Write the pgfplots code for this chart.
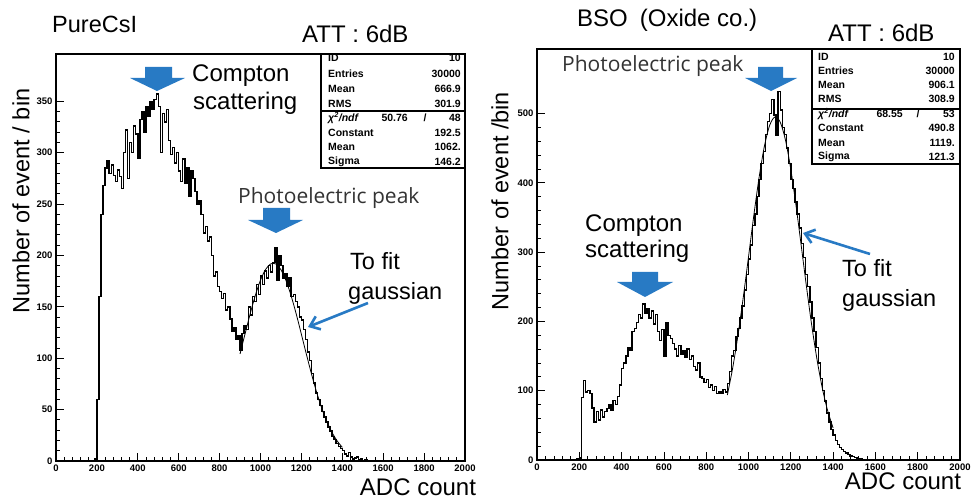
\documentclass[border=0pt]{standalone}
\usepackage{fontspec}
\setmainfont{Liberation Sans}
\newfontfamily\osans{Open Sans}
\usepackage{pgfplots}
\pgfplotsset{compat=1.18}
\usetikzlibrary{arrows.meta}
\definecolor{arrblue}{RGB}{40,122,196}
\newcommand{\fs}[1]{\fontsize{#1}{#1}\selectfont}

\pgfplotstableread{
x y
180 0
190 2
200 60
210 160
220 240
230 268
240 285
250 292
260 280
270 288
280 278
290 272
300 283
310 277
320 265
330 300
340 322
350 275
360 310
370 300
380 326
390 318
400 295
410 332
420 340
430 320
440 345
450 335
460 350
470 342
480 352
490 357
500 345
510 300
520 338
530 330
540 342
550 312
560 298
570 305
580 290
590 300
600 282
610 272
620 294
630 270
640 285
650 258
660 282
670 275
680 262
690 250
700 253
710 240
720 222
730 228
740 214
750 218
760 200
770 180
780 184
790 170
800 165
810 158
820 163
830 147
840 150
850 138
860 126
870 130
880 118
890 122
900 108
910 124
920 132
930 128
940 150
950 142
960 160
970 155
980 172
990 162
1000 180
1010 172
1020 185
1030 178
1040 190
1050 184
1060 193
1070 208
1080 176
1090 200
1100 190
1110 178
1120 182
1130 170
1140 178
1150 160
1160 162
1170 155
1180 150
1190 140
1200 137
1210 128
1220 118
1230 106
1240 98
1250 85
1260 76
1270 66
1280 60
1290 54
1300 48
1310 43
1320 38
1330 33
1340 29
1350 24
1360 21
1370 17
1380 14
1390 12
1400 10
1410 7
1420 5
1430 8
1440 4
1450 2
1460 3
1470 4
1480 1
1490 2
1500 0
1510 1
1520 0
}\csidata

\pgfplotstableread{
x y
900 104.2
925 124.1
950 143.6
975 161.3
1000 176.0
1025 186.4
1050 191.8
1075 191.7
1100 186.1
1125 175.4
1150 160.6
1175 142.8
1200 123.3
1225 103.4
1250 84.2
1275 66.6
1300 51.1
1325 38.2
1350 27.7
1375 19.5
1400 13.3
}\csifit

\pgfplotstableread{
x y
180 1
190 2
200 3
210 90
220 115
230 98
240 100
250 96
260 75
270 55
280 70
290 58
300 72
310 62
320 70
330 74
340 80
350 72
360 86
370 80
380 92
390 108
400 132
410 140
420 150
430 162
440 158
450 185
460 190
470 198
480 210
490 205
500 225
510 212
520 218
530 205
540 215
550 196
560 210
570 185
580 172
590 188
600 150
610 198
620 180
630 175
640 168
650 160
660 150
670 165
680 152
690 158
700 148
710 160
720 145
730 150
740 135
750 130
760 140
770 120
780 118
790 112
800 116
810 105
820 108
830 100
840 106
850 96
860 98
870 96
880 102
890 98
900 110
910 128
920 150
930 158
940 178
950 190
960 205
970 222
980 245
990 268
1000 290
1010 310
1020 338
1030 355
1040 380
1050 405
1060 428
1070 445
1080 470
1090 488
1100 500
1110 520
1120 498
1130 468
1140 532
1150 505
1160 480
1170 470
1180 450
1190 428
1200 405
1210 392
1220 372
1230 355
1240 335
1250 312
1260 292
1270 268
1280 250
1290 228
1300 205
1310 185
1320 162
1330 140
1340 118
1350 100
1360 85
1370 68
1380 55
1390 44
1400 36
1410 28
1420 22
1430 18
1440 15
1450 12
1460 10
1470 8
1480 6
1490 5
1500 4
1510 3
1520 2
1530 2
1540 1
1550 0
}\bsodata

\pgfplotstableread{
x y
900 93.8
925 132.4
950 179.6
975 234.1
1000 293.0
1025 352.6
1050 407.5
1075 452.5
1100 482.8
1125 495.0
1150 487.4
1175 461.3
1200 419.3
1225 366.3
1250 307.5
1275 248.0
1300 192.1
1325 143.0
1350 102.3
1375 70.3
1400 46.4
}\bsofit

\pgfplotsset{rootaxis/.style={
  scale only axis, anchor=south west,
  xmin=0, xmax=2000, ymin=0,
  axis line style={line width=1.1pt},
  xtick={0,200,...,2000}, minor x tick num=4,
  tick align=inside, xtick pos=bottom, ytick pos=left,
  major tick length=8pt, minor tick length=4pt,
  every tick/.style={line width=0.8pt, black},
  tick label style={font=\fs{9.5}\bfseries},
  /pgf/number format/assume math mode=true,
  /pgf/number format/1000 sep={},
}}

\begin{document}
\begin{tikzpicture}
\path[use as bounding box] (0pt,0pt) rectangle (975pt,501pt);

% ---------- left panel ----------
\begin{axis}[rootaxis, at={(56pt,40pt)}, width=409pt, height=407pt,
  ymax=396, ytick={0,50,...,350}, minor y tick num=4]
\addplot[const plot, line width=1.4pt, black] table {\csidata};
\addplot[line width=0.8pt, black, smooth] table {\csifit};
\end{axis}

% ---------- right panel ----------
\begin{axis}[rootaxis, at={(537pt,41pt)}, width=423pt, height=411pt,
  ymax=593, ytick={0,100,...,500}, minor y tick num=4]
\addplot[const plot, line width=1.4pt, black] table {\bsodata};
\addplot[line width=0.8pt, black, smooth] table {\bsofit};
\end{axis}

% ---------- stat boxes ----------
\begin{scope}[line width=1.1pt]
\filldraw[fill=white] (321pt,447pt) rectangle (465pt,333pt);
\draw (321pt,390pt) -- (465pt,390pt);
\filldraw[fill=white] (812pt,452pt) rectangle (960pt,337pt);
\draw (812pt,392pt) -- (960pt,392pt);
\end{scope}
\begin{scope}[every node/.style={font=\fs{10.5}\bfseries, inner sep=0pt}]
% left
\node[anchor=west] at (328pt,443pt) {ID};        \node[anchor=east] at (461pt,443pt) {10};
\node[anchor=west] at (328pt,427pt) {Entries};   \node[anchor=east] at (461pt,427pt) {30000};
\node[anchor=west] at (328pt,412pt) {Mean};      \node[anchor=east] at (461pt,412pt) {666.9};
\node[anchor=west] at (328pt,397pt) {RMS};       \node[anchor=east] at (461pt,397pt) {301.9};
\node[anchor=west] at (328pt,383pt) {\itshape χ\textsuperscript{2}/ndf}; \node[anchor=east] at (408pt,383pt) {50.76};
\node at (425pt,383pt) {/}; \node[anchor=east] at (461pt,383pt) {48};
\node[anchor=west] at (328pt,368pt) {Constant};  \node[anchor=east] at (461pt,368pt) {192.5};
\node[anchor=west] at (328pt,354pt) {Mean};      \node[anchor=east] at (461pt,354pt) {1062.};
\node[anchor=west] at (328pt,339pt) {Sigma};     \node[anchor=east] at (461pt,339pt) {146.2};
% right
\node[anchor=west] at (818pt,444pt) {ID};        \node[anchor=east] at (955pt,444pt) {10};
\node[anchor=west] at (818pt,430pt) {Entries};   \node[anchor=east] at (955pt,430pt) {30000};
\node[anchor=west] at (818pt,416pt) {Mean};      \node[anchor=east] at (955pt,416pt) {906.1};
\node[anchor=west] at (818pt,402pt) {RMS};       \node[anchor=east] at (955pt,402pt) {308.9};
\node[anchor=west] at (818pt,387pt) {\itshape χ\textsuperscript{2}/ndf}; \node[anchor=east] at (903pt,387pt) {68.55};
\node at (918pt,387pt) {/}; \node[anchor=east] at (955pt,387pt) {53};
\node[anchor=west] at (818pt,373pt) {Constant};  \node[anchor=east] at (955pt,373pt) {490.8};
\node[anchor=west] at (818pt,358pt) {Mean};      \node[anchor=east] at (955pt,358pt) {1119.};
\node[anchor=west] at (818pt,344pt) {Sigma};     \node[anchor=east] at (955pt,344pt) {121.3};
\end{scope}

% ---------- titles and labels ----------
\begin{scope}[every node/.style={inner sep=0pt}]
\node[anchor=base west, font=\fs{23.5}] at (52pt,468pt) {PureCsI};
\node[anchor=base west, font=\fs{24}] at (302pt,458pt) {ATT : 6dB};
\node[anchor=base west, font=\fs{24}] at (577pt,474pt) {BSO\hspace{12pt}(Oxide co.)};
\node[anchor=base west, font=\fs{24}] at (828pt,459pt) {ATT : 6dB};

\node[rotate=90, font=\fs{23.5}] at (21pt,300pt) {Number of event / bin};
\node[rotate=90, font=\fs{23.5}] at (500pt,300pt) {Number of event /bin};
\node[font=\fs{24}] at (418pt,14pt) {ADC count};
\node[font=\fs{24}] at (903pt,20pt) {ADC count};

\node[anchor=base west, font=\fs{24}] at (192pt,419pt) {Compton};
\node[anchor=base west, font=\fs{24}] at (193pt,391pt) {scattering};
\node[anchor=base west, font=\osans\fs{21}, text=black!80] at (238pt,297pt) {Photoelectric peak};
\node[anchor=base west, font=\fs{23.5}] at (350pt,231pt) {To fit};
\node[anchor=base west, font=\fs{23.5}] at (348pt,201pt) {gaussian};

\node[anchor=base west, font=\osans\fs{21}, text=black!80] at (562pt,429pt) {Photoelectric peak};
\node[anchor=base west, font=\fs{24}] at (585pt,269pt) {Compton};
\node[anchor=base west, font=\fs{24}] at (585pt,243pt) {scattering};
\node[anchor=base west, font=\fs{23.5}] at (842pt,224pt) {To fit};
\node[anchor=base west, font=\fs{23.5}] at (842pt,194pt) {gaussian};
\end{scope}

% ---------- block arrows ----------
\fill[arrblue] (145pt,434pt) -- (172pt,434pt) -- (172pt,423pt) -- (185pt,423pt) -- (157pt,410pt) -- (130pt,423pt) -- (145pt,423pt) -- cycle;
\fill[arrblue] (263pt,293pt) -- (290pt,293pt) -- (290pt,281pt) -- (303pt,281pt) -- (276pt,268pt) -- (248pt,281pt) -- (263pt,281pt) -- cycle;
\fill[arrblue] (758pt,434pt) -- (783pt,434pt) -- (783pt,423pt) -- (797pt,423pt) -- (771pt,410pt) -- (745pt,423pt) -- (758pt,423pt) -- cycle;
\fill[arrblue] (632pt,229pt) -- (658pt,229pt) -- (658pt,219pt) -- (673pt,219pt) -- (645pt,204pt) -- (617pt,219pt) -- (632pt,219pt) -- cycle;

% ---------- thin arrows ----------
\draw[arrblue, line width=2.6pt, -{Straight Barb[length=9pt, width=14pt]}] (368pt,198pt) -- (308pt,174pt);
\draw[arrblue, line width=2.6pt, -{Straight Barb[length=9pt, width=14pt]}] (870pt,247pt) -- (803pt,268pt);
\end{tikzpicture}
\end{document}
